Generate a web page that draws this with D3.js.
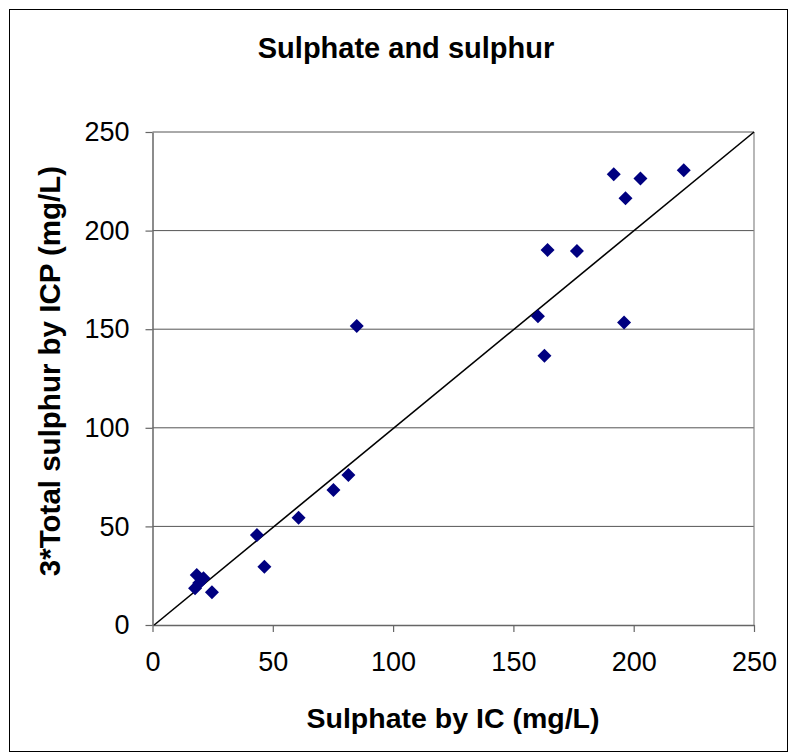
<!DOCTYPE html>
<html><head><meta charset="utf-8">
<script src="https://cdn.jsdelivr.net/npm/d3@7"></script>
<style>body{margin:0;background:#fff}svg{display:block}text{font-family:"Liberation Sans",Arial,sans-serif}</style>
</head><body>
<svg id="c" width="790" height="753"></svg>
<script>
const title = "Sulphate and sulphur";
const xLabel = "Sulphate by IC (mg/L)";
const yLabel = "3*Total sulphur by ICP (mg/L)";
const xTicks = [0, 50, 100, 150, 200, 250];
const yTicks = [0, 50, 100, 150, 200, 250];
const sulphateIC = [18.4, 21.2, 17.7, 19.4, 24.7, 43.4, 46.5, 60.7, 75.2, 81.4, 84.9, 160.2, 162.9, 164.2, 176.4, 191.7, 196.6, 196.0, 202.8, 220.8];
const sulphurICP = [25.4, 23.7, 18.6, 21.3, 16.6, 45.6, 29.6, 54.4, 68.5, 76.1, 151.6, 156.6, 136.5, 190.2, 189.6, 228.6, 216.4, 153.4, 226.4, 230.6];
const refX = [0.7, 250];
const refY = [0, 250];

const svg = d3.select("#c");
const L = 152.5, R = 754, T = 132, B = 625;
const x = d3.scaleLinear().domain([0, 250]).range([L, R]);
const y = d3.scaleLinear().domain([0, 250]).range([B, T]);

svg.append("rect").attr("x", 9.5).attr("y", 9.5).attr("width", 778).attr("height", 742)
  .attr("fill", "#fff").attr("stroke", "#000").attr("stroke-width", 1);

// gridlines
svg.append("g").selectAll("line").data(yTicks.filter(d => d > 0)).join("line")
  .attr("x1", L).attr("x2", R).attr("y1", d => y(d)).attr("y2", d => y(d))
  .attr("stroke", "#555").attr("stroke-width", 1);
// right border
svg.append("line").attr("x1", R).attr("x2", R).attr("y1", T).attr("y2", B).attr("stroke", "#888").attr("stroke-width", 1.2);

// axes
const xAxis = d3.axisBottom(x).tickValues(xTicks).tickSize(7).tickPadding(20).tickSizeOuter(0);
const gx = svg.append("g").attr("transform", `translate(0,${B})`).call(xAxis);
gx.select(".domain").attr("stroke", "#666").attr("stroke-width", 1.5);
gx.selectAll(".tick line").attr("stroke", "#666").attr("stroke-width", 1.2);
gx.selectAll("text").attr("font-size", 27).attr("fill", "#000").attr("font-family", "Liberation Sans, Arial, sans-serif");

const yAxis = d3.axisLeft(y).tickValues(yTicks).tickSize(7).tickPadding(16).tickSizeOuter(0);
const gy = svg.append("g").attr("transform", `translate(${L},0)`).call(yAxis);
gy.select(".domain").attr("stroke", "#666").attr("stroke-width", 1.5);
gy.selectAll(".tick line").attr("stroke", "#666").attr("stroke-width", 1.2);
gy.selectAll("text").attr("font-size", 27).attr("fill", "#000").attr("font-family", "Liberation Sans, Arial, sans-serif");

// reference line
svg.append("line").attr("x1", x(refX[0])).attr("y1", y(refY[0])).attr("x2", x(refX[1])).attr("y2", y(refY[1]))
  .attr("stroke", "#000").attr("stroke-width", 1.6);

// points
const pts = sulphateIC.map((v, i) => [v, sulphurICP[i]]);
svg.append("g").selectAll("path").data(pts).join("path")
  .attr("d", d3.symbol(d3.symbolSquare, 98))
  .attr("transform", d => `translate(${x(d[0])},${y(d[1])}) rotate(45)`)
  .attr("fill", "#000080");

// title and labels
svg.append("text").attr("x", 406).attr("y", 58).attr("text-anchor", "middle")
  .attr("font-size", 29).attr("font-weight", "bold").text(title);
svg.append("text").attr("x", 453).attr("y", 728).attr("text-anchor", "middle")
  .attr("font-size", 28.5).attr("font-weight", "bold").text(xLabel);
svg.append("text").attr("transform", "translate(60,371) rotate(-90)").attr("text-anchor", "middle")
  .attr("font-size", 29.5).attr("font-weight", "bold").text(yLabel);
</script>
</body></html>
